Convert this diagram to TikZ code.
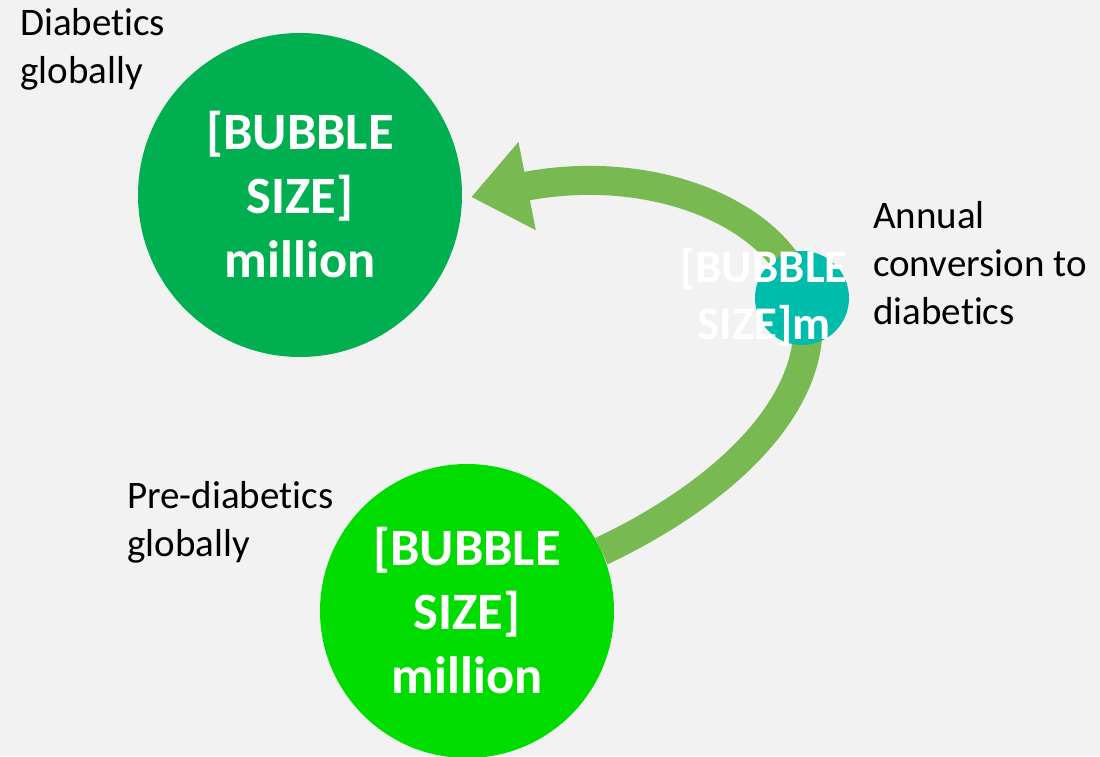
\documentclass[tikz,border=0pt]{standalone}
\usepackage{fontspec}
\setmainfont{Carlito}[Ligatures={NoCommon,NoContextual}]
\usetikzlibrary{arrows.meta}
\definecolor{bgcolor}{HTML}{F2F2F2}
\definecolor{darkgreen}{HTML}{00B050}
\definecolor{brightgreen}{HTML}{00DC00}
\definecolor{tealbubble}{HTML}{00BDAB}
\definecolor{arrowgreen}{HTML}{79B952}
\pgfdeclarelayer{bglayer}
\pgfdeclarelayer{behind}
\pgfsetlayers{bglayer,behind,main}
\begin{document}
\begin{tikzpicture}[x=1pt,y=-1pt,
  bubble/.style={circle, inner sep=0pt, minimum size=#1},
  bigtext/.style={text=white, font=\bfseries\fontsize{52.5}{64}\selectfont, align=center},
  smalltext/.style={text=white, font=\bfseries\fontsize{46.8}{57}\selectfont, align=center, inner sep=0pt},
  desc/.style={font=\fontsize{39}{48}\selectfont, align=left, anchor=north west, inner sep=0pt, text=black},
  flow/.style={draw=arrowgreen, line width=29pt, -{Triangle[length=57pt,width=86pt]}}
]
\useasboundingbox (0,0) rectangle (1100,756);
\begin{pgfonlayer}{bglayer}
  \fill[bgcolor] (0,0) rectangle (1100,756);
\end{pgfonlayer}

\node[bubble=324pt, fill=darkgreen, bigtext] (b1) at (300,195) {[BUBBLE\\SIZE]\\million};
\node[bubble=294pt, fill=brightgreen, bigtext] (b2) at (467,611) {[BUBBLE\\SIZE]\\million};
\node[bubble=94pt, fill=tealbubble] (s) at (802,298) {};
\node[smalltext] (st) at (764,297) {[BUBBLE\\SIZE]m};

\node[desc] (l1) at (20,8) {Diabetics\\globally};
\node[desc] (l2) at (127,481) {Pre-diabetics\\globally};
\node[desc] (l3) at (873,201) {Annual\\conversion to\\diabetics};

\begin{pgfonlayer}{behind}
  \draw[flow] (b2.24) .. controls (720,495) and (812,410) .. (808,320)
    .. controls (800,220) and (660,160) .. ([shift={(9,2)}]b1.east);
\end{pgfonlayer}
\end{tikzpicture}
\end{document}
